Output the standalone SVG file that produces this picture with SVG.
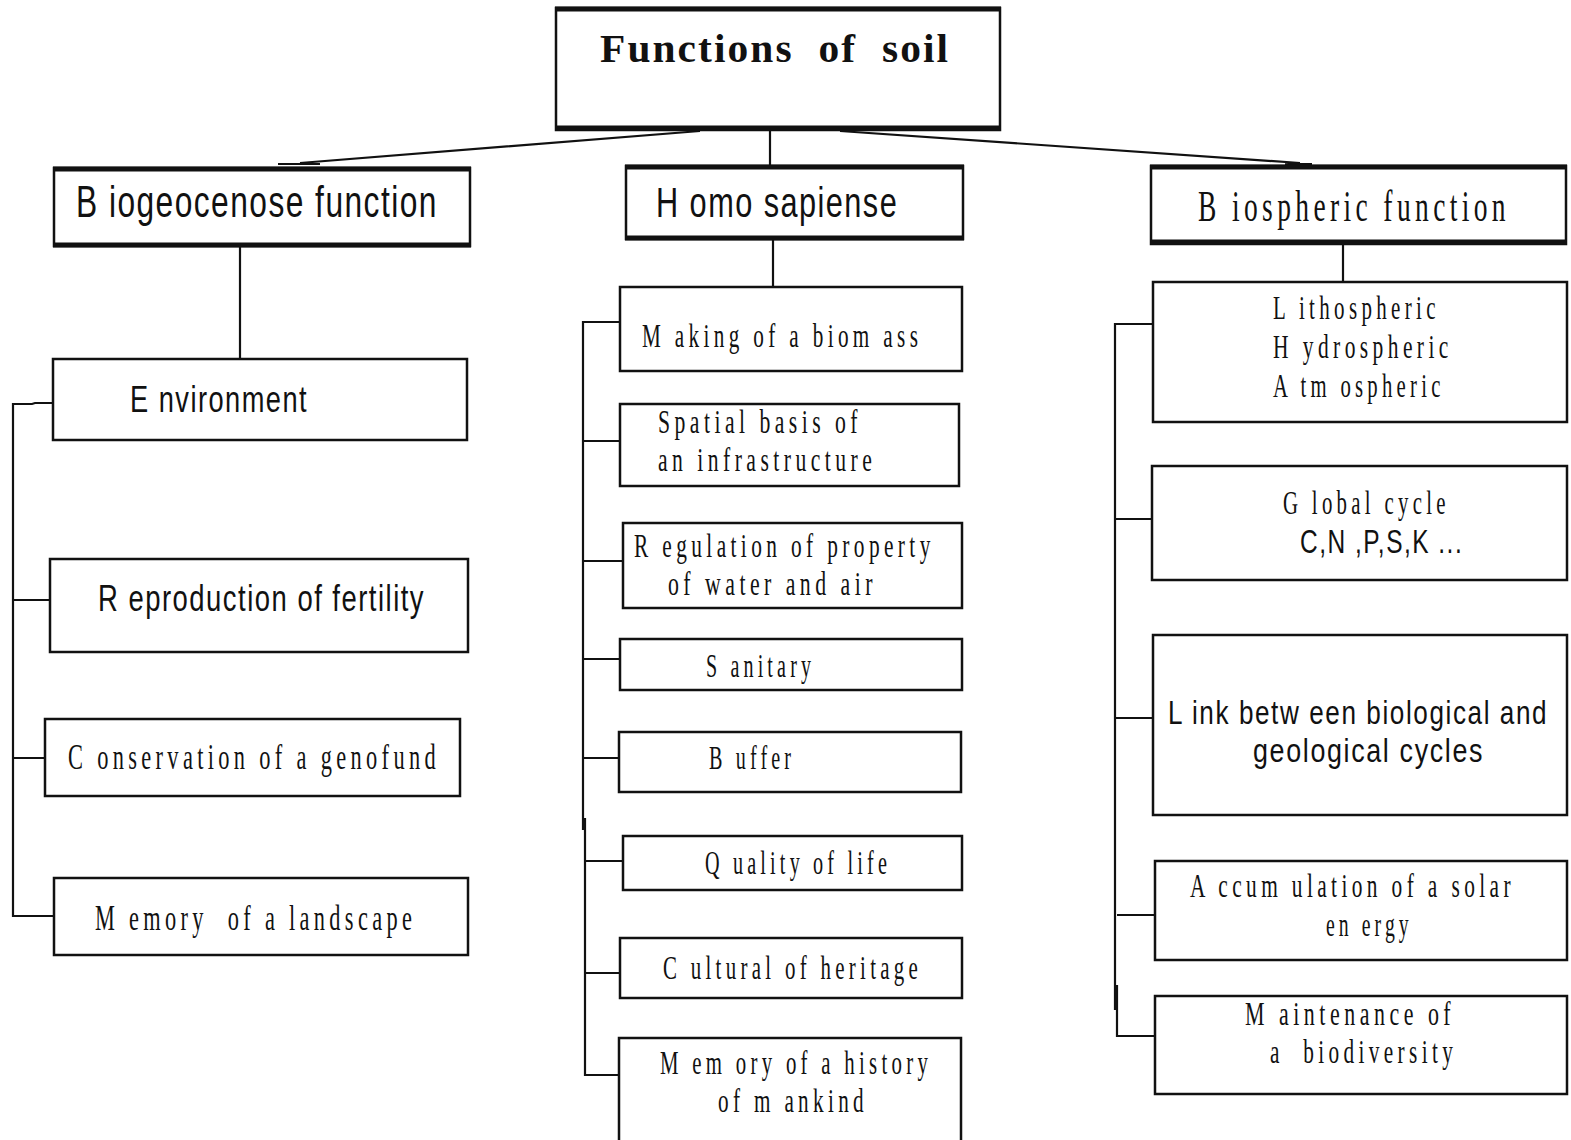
<svg xmlns="http://www.w3.org/2000/svg" width="1571" height="1140" viewBox="0 0 1571 1140">
<style>
.box{fill:#fff;stroke:#111;stroke-width:2.5}
.thick{stroke:#111;stroke-width:5;fill:none}
.ln{stroke:#111;stroke-width:2.2;fill:none}
.sans{font-family:"Liberation Sans",Arial,sans-serif;fill:#111;letter-spacing:2px}
.serif{font-family:"Liberation Serif","Times New Roman",serif;fill:#111;letter-spacing:7px}
.t{font-size:34px}
</style>
<rect width="1571" height="1140" fill="#fff"/>
<g id="connectors">
<path class="ln" d="M700 131 L300 163 M278 164 L320 164"/>
<path class="ln" d="M840 131 L1300 163 M1285 164 L1312 164"/>
<path class="ln" d="M770 130 V166"/>
<path class="ln" d="M240 247 V359"/>
<path class="ln" d="M773 240 V287"/>
<path class="ln" d="M1343 245 V283"/>
<path class="ln" d="M53 403 H35 L32 404 H13 V916 H54 M13 600 H50 M13 758 H52"/>
<path class="ln" d="M620 322 H583 V830 M585 818 V1075 H619 M583 441 H620 M583 561 H623 M583 659 H620 M583 758 H619 M585 861 H623 M585 973 H620"/>
<path class="ln" d="M1153 324 H1115 V1010 M1117 985 V1036 H1155 M1115 519 H1152 M1115 718 H1153 M1117 915 H1155"/>
</g>
<g id="root">
<rect class="box" x="556" y="8" width="444" height="122"/>
<path class="thick" d="M555 9 H1001 M555 128 H1001"/>
<text class="serif" transform="translate(600 62) scale(0.85 1)" font-size="40" font-weight="bold" style="letter-spacing:2px" xml:space="preserve" textLength="412" lengthAdjust="spacingAndGlyphs">Functions  of  soil</text>
</g>
<g id="biogeocenose">
<rect class="box" x="54" y="168" width="416" height="78"/>
<path class="thick" d="M53 169 H471 M53 245 H471"/>
<text class="sans" transform="translate(76 217) scale(0.7 1)" font-size="44" textLength="517" lengthAdjust="spacingAndGlyphs">B iogeocenose function</text>
</g>
<g id="homo">
<rect class="box" x="626" y="166" width="337" height="73"/>
<path class="thick" d="M625 167 H964 M625 238 H964"/>
<text class="sans" transform="translate(656 217) scale(0.7 1)" font-size="42" textLength="346" lengthAdjust="spacingAndGlyphs">H omo sapiense</text>
</g>
<g id="biospheric">
<rect class="box" x="1151" y="166" width="415" height="78"/>
<path class="thick" d="M1150 167 H1567 M1150 242 H1567"/>
<text class="serif" transform="translate(1198 221) scale(0.6 1)" font-size="44" textLength="520" lengthAdjust="spacingAndGlyphs">B iospheric function</text>
</g>
<g id="environment">
<rect class="box" x="53" y="359" width="414" height="81"/>
<text class="sans" transform="translate(130 412) scale(0.68 1)" font-size="37" textLength="262" lengthAdjust="spacingAndGlyphs">E nvironment</text>
</g>
<g id="reproduction">
<rect class="box" x="50" y="559" width="418" height="93"/>
<text class="sans" transform="translate(98 611) scale(0.68 1)" font-size="37" textLength="481" lengthAdjust="spacingAndGlyphs">R eproduction of fertility</text>
</g>
<g id="conservation">
<rect class="box" x="45" y="719" width="415" height="77"/>
<text class="serif" transform="translate(68 769) scale(0.62 1)" font-size="36" textLength="600" lengthAdjust="spacingAndGlyphs">C onservation of a genofund</text>
</g>
<g id="memory-landscape">
<rect class="box" x="54" y="878" width="414" height="77"/>
<text class="serif" transform="translate(95 930) scale(0.62 1)" font-size="36" xml:space="preserve" textLength="518" lengthAdjust="spacingAndGlyphs">M emory  of a landscape</text>
</g>
<g id="biomass">
<rect class="box" x="620" y="287" width="342" height="84"/>
<text class="serif t" transform="translate(642 347) scale(0.62 1)" textLength="452" lengthAdjust="spacingAndGlyphs">M aking of a biom ass</text>
</g>
<g id="spatial">
<rect class="box" x="620" y="404" width="339" height="82"/>
<text class="serif t" transform="translate(658 433) scale(0.62 1)" textLength="329" lengthAdjust="spacingAndGlyphs">Spatial basis of</text>
<text class="serif t" transform="translate(658 471) scale(0.62 1)" textLength="352" lengthAdjust="spacingAndGlyphs">an infrastructure</text>
</g>
<g id="regulation">
<rect class="box" x="623" y="523" width="339" height="85"/>
<text class="serif t" transform="translate(634 557) scale(0.62 1)" textLength="485" lengthAdjust="spacingAndGlyphs">R egulation of property</text>
<text class="serif t" transform="translate(668 595) scale(0.62 1)" textLength="337" lengthAdjust="spacingAndGlyphs">of water and air</text>
</g>
<g id="sanitary">
<rect class="box" x="620" y="639" width="342" height="51"/>
<text class="serif t" transform="translate(706 677) scale(0.62 1)" textLength="176" lengthAdjust="spacingAndGlyphs">S anitary</text>
</g>
<g id="buffer">
<rect class="box" x="619" y="732" width="342" height="60"/>
<text class="serif t" transform="translate(709 769) scale(0.62 1)" textLength="139" lengthAdjust="spacingAndGlyphs">B uffer</text>
</g>
<g id="quality">
<rect class="box" x="623" y="836" width="339" height="54"/>
<text class="serif t" transform="translate(705 874) scale(0.62 1)" textLength="300" lengthAdjust="spacingAndGlyphs">Q uality of life</text>
</g>
<g id="cultural">
<rect class="box" x="620" y="938" width="342" height="60"/>
<text class="serif t" transform="translate(663 979) scale(0.62 1)" textLength="418" lengthAdjust="spacingAndGlyphs">C ultural of heritage</text>
</g>
<g id="memory-history">
<rect class="box" x="619" y="1038" width="342" height="110"/>
<text class="serif t" transform="translate(660 1074) scale(0.62 1)" textLength="439" lengthAdjust="spacingAndGlyphs">M em ory of a history</text>
<text class="serif t" transform="translate(718 1112) scale(0.62 1)" textLength="242" lengthAdjust="spacingAndGlyphs">of m ankind</text>
</g>
<g id="spheres">
<rect class="box" x="1153" y="282" width="414" height="140"/>
<text class="serif t" transform="translate(1273 319) scale(0.62 1)" textLength="269" lengthAdjust="spacingAndGlyphs">L ithospheric</text>
<text class="serif t" transform="translate(1273 358) scale(0.62 1)" textLength="290" lengthAdjust="spacingAndGlyphs">H ydrospheric</text>
<text class="serif t" transform="translate(1273 397) scale(0.62 1)" textLength="277" lengthAdjust="spacingAndGlyphs">A tm ospheric</text>
</g>
<g id="global-cycle">
<rect class="box" x="1152" y="466" width="415" height="114"/>
<text class="serif t" transform="translate(1283 514) scale(0.62 1)" textLength="269" lengthAdjust="spacingAndGlyphs">G lobal cycle</text>
<text class="sans" transform="translate(1300 553) scale(0.68 1)" font-size="33" textLength="240" lengthAdjust="spacingAndGlyphs">C,N ,P,S,K ...</text>
</g>
<g id="link">
<rect class="box" x="1153" y="635" width="414" height="180"/>
<text class="sans" transform="translate(1168 724) scale(0.72 1)" font-size="33" textLength="528" lengthAdjust="spacingAndGlyphs">L ink betw een biological and</text>
<text class="sans" transform="translate(1253 762) scale(0.72 1)" font-size="33" textLength="321" lengthAdjust="spacingAndGlyphs">geological cycles</text>
</g>
<g id="accumulation">
<rect class="box" x="1155" y="861" width="412" height="99"/>
<text class="serif t" transform="translate(1190 897) scale(0.62 1)" textLength="524" lengthAdjust="spacingAndGlyphs">A ccum ulation of a solar</text>
<text class="serif t" transform="translate(1326 936) scale(0.62 1)" textLength="140" lengthAdjust="spacingAndGlyphs">en ergy</text>
</g>
<g id="maintenance">
<rect class="box" x="1155" y="996" width="412" height="98"/>
<text class="serif t" transform="translate(1245 1025) scale(0.62 1)" textLength="339" lengthAdjust="spacingAndGlyphs">M aintenance of</text>
<text class="serif t" transform="translate(1270 1063) scale(0.62 1)" xml:space="preserve" textLength="302" lengthAdjust="spacingAndGlyphs">a  biodiversity</text>
</g>
</svg>
